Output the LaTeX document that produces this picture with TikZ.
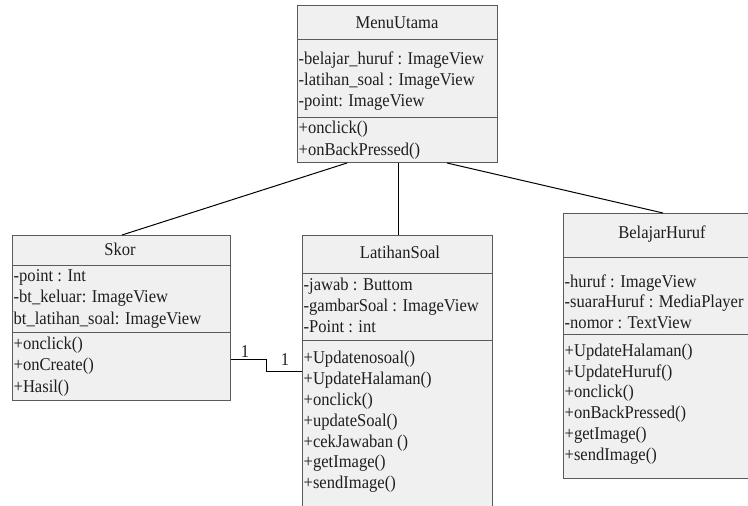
\documentclass[tikz,border=0pt]{standalone}
\usepackage{fontspec}
\setmainfont{Liberation Serif}[FakeStretch=0.92]
\usetikzlibrary{calc}
\definecolor{boxfill}{HTML}{F0F0F0}
\definecolor{boxline}{HTML}{5A5A5A}
\definecolor{inkc}{HTML}{1E1E1E}
\begin{document}
\begin{tikzpicture}[x=1pt,y=-1pt,
  cls/.style={draw=boxline, fill=boxfill, line width=1pt, inner sep=0pt, anchor=north west},
  sep/.style={draw=boxline, line width=1pt},
  txt/.style={anchor=base west, inner sep=0pt, text=inkc, font=\fontsize{18}{21}\selectfont},
  ttl/.style={anchor=base, inner sep=0pt, text=inkc, font=\fontsize{18}{21}\selectfont},
  link/.style={draw=black, line width=1pt}]
\useasboundingbox (0,0) rectangle (748,506);

% ---- MenuUtama ----
\node[cls, minimum width=200pt, minimum height=157pt] (menu) at (297,5) {};
\draw[sep] (297,39) -- (497,39);
\draw[sep] (297,117) -- (497,117);
\node[ttl] (menuT) at (397,28) {MenuUtama};
\node[txt] (menuA1) at (298.5,64) {-belajar\_huruf : ImageView};
\node[txt] (menuA2) at (298.5,85) {-latihan\_soal : ImageView};
\node[txt] (menuA3) at (298.5,106) {-point: ImageView};
\node[txt] (menuM1) at (298.5,133) {+onclick()};
\node[txt] (menuM2) at (298.5,155) {+onBackPressed()};

% ---- Skor ----
\node[cls, minimum width=218pt, minimum height=165pt] (skor) at (12,235) {};
\draw[sep] (12,265) -- (230,265);
\draw[sep] (12,332) -- (230,332);
\node[ttl] (skorT) at (120,255) {Skor};
\node[txt] (skorA1) at (13.5,281) {-point : Int};
\node[txt] (skorA2) at (13.5,302.5) {-bt\_keluar: ImageView};
\node[txt] (skorA3) at (13.5,324) {bt\_latihan\_soal: ImageView};
\node[txt] (skorM1) at (13.5,349) {+onclick()};
\node[txt] (skorM2) at (13.5,370.5) {+onCreate()};
\node[txt] (skorM3) at (13.5,392) {+Hasil()};

% ---- LatihanSoal ----
\node[cls, minimum width=190pt, minimum height=290pt] (latihan) at (302,235) {};
\draw[sep] (302,273) -- (492,273);
\draw[sep] (302,340) -- (492,340);
\node[ttl] (latT) at (400,258) {LatihanSoal};
\node[txt] (latA1) at (303.5,290) {-jawab : Buttom};
\node[txt] (latA2) at (303.5,311) {-gambarSoal : ImageView};
\node[txt] (latA3) at (303.5,332) {-Point : int};
\node[txt] (latM1) at (303.5,363) {+Updatenosoal()};
\node[txt] (latM2) at (303.5,384) {+UpdateHalaman()};
\node[txt] (latM3) at (303.5,405) {+onclick()};
\node[txt] (latM4) at (303.5,426) {+updateSoal()};
\node[txt] (latM5) at (303.5,447) {+cekJawaban ()};
\node[txt] (latM6) at (303.5,467) {+getImage()};
\node[txt] (latM7) at (303.5,488) {+sendImage()};

% ---- BelajarHuruf (runs past the right edge of the page) ----
\node[cls, minimum width=200pt, minimum height=265pt] (belajar) at (563,213) {};
\draw[sep] (563,257) -- (763,257);
\draw[sep] (563,334) -- (763,334);
\node[ttl] (belT) at (662,238) {BelajarHuruf};
\node[txt] (belA1) at (564.5,287) {-huruf : ImageView};
\node[txt] (belA2) at (564.5,307.5) {-suaraHuruf : MediaPlayer};
\node[txt] (belA3) at (564.5,328) {-nomor : TextView};
\node[txt] (belM1) at (564.5,356) {+UpdateHalaman()};
\node[txt] (belM2) at (564.5,377) {+UpdateHuruf()};
\node[txt] (belM3) at (564.5,397.5) {+onclick()};
\node[txt] (belM4) at (564.5,418) {+onBackPressed()};
\node[txt] (belM5) at (564.5,439) {+getImage()};
\node[txt] (belM6) at (564.5,460) {+sendImage()};

% ---- associations ----
\draw[link] ($(menu.south west)+(50,0)$) -- ($(skor.north west)+(110,0)$);
\draw[link] ($(menu.south west)+(101,0)$) -- ($(latihan.north west)+(96,0)$);
\draw[link] ($(menu.south west)+(150,0)$) -- ($(belajar.north west)+(100,0)$);
\draw[link] ($(skor.north east)+(0,124)$) -- ++(35,0) -- ++(0,12) -- ($(latihan.north west)+(0,136)$);
\node[ttl] (mulA) at (245,357) {1};
\node[ttl] (mulB) at (285,365) {1};
\end{tikzpicture}
\end{document}
